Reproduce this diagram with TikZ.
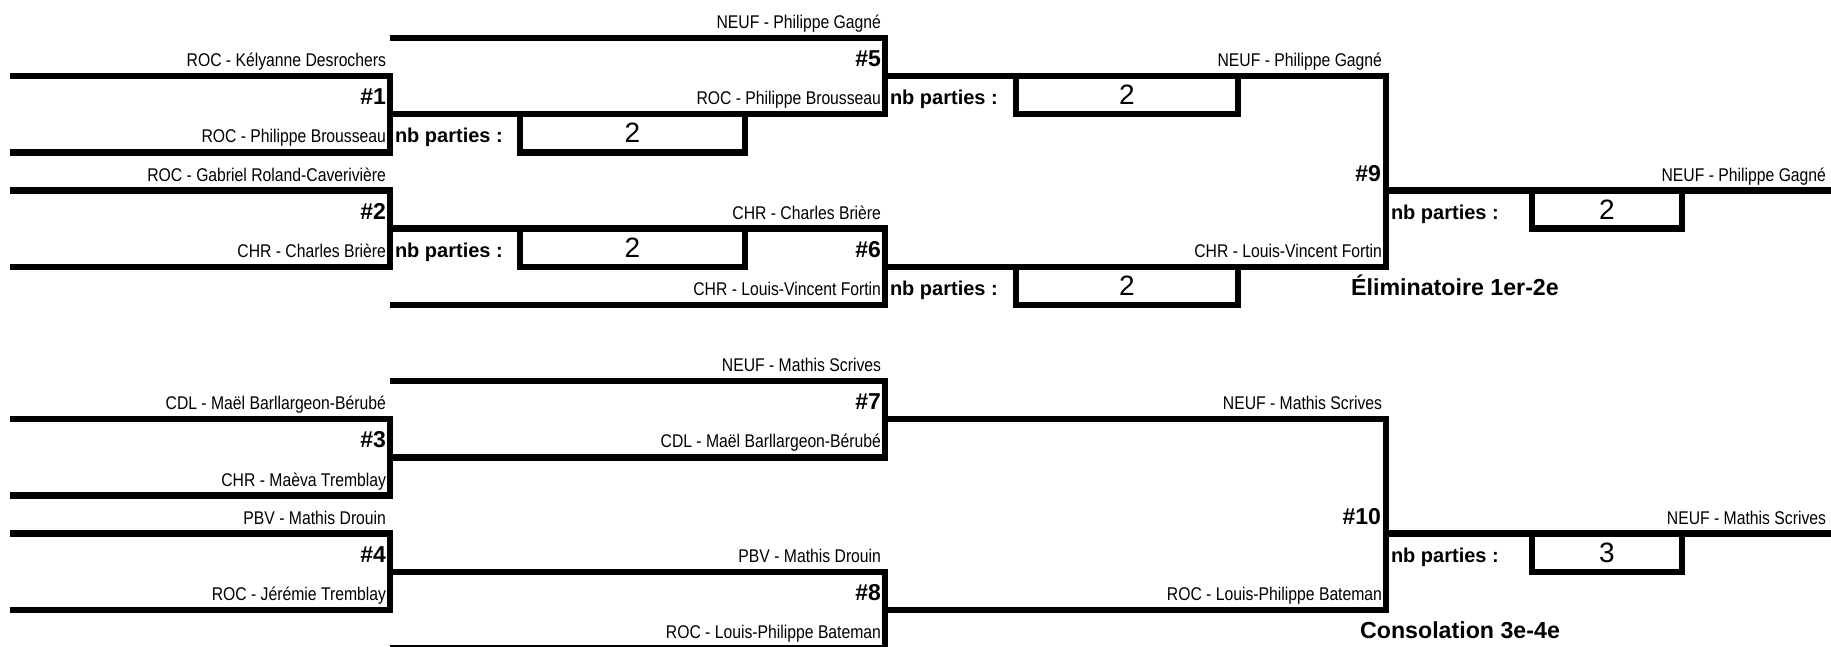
\documentclass[tikz,border=0pt]{standalone}
\usepackage{fontspec}
\setmainfont{Liberation Sans}
\newfontfamily\namefont[FakeStretch=0.855]{Liberation Sans}
\tikzset{
  brk/.style={draw=black, line width=3.2pt, line join=miter},
  txt/.style={inner sep=0pt, outer sep=0pt, yshift=4.75pt},
  nm/.style={txt, anchor=base east, font=\namefont\fontsize{9.2}{10}\selectfont},
  num/.style={txt, anchor=base east, font=\bfseries\fontsize{11.5}{13}\selectfont},
  nbp/.style={txt, anchor=base west, font=\bfseries\fontsize{10}{12}\selectfont},
  score/.style={txt, anchor=base, font=\fontsize{14}{16}\selectfont},
  ttl/.style={txt, anchor=base, font=\bfseries\fontsize{11.6}{13}\selectfont}
}
\begin{document}
\begin{tikzpicture}[x=0.5pt, y=-19.0625pt]
\clip (0,-0.99672) rectangle (1831,15.97377);
% ---------- upper bracket ----------
\draw[brk] (10,1) -- (390,1) -- (390,3) -- (10,3);
\draw[brk] (10,4) -- (390,4) -- (390,6) -- (10,6);
\draw[brk] (390,0) -- (885,0) -- (885,2) -- (390,2);
\draw[brk] (390,5) -- (885,5) -- (885,7) -- (390,7);
\draw[brk] (885,1) -- (1386,1) -- (1386,6) -- (885,6);
\draw[brk] (1386,4) -- (1831,4);
% score boxes upper
\draw[brk] (520,2) -- (520,3) -- (745,3) -- (745,2);
\draw[brk] (520,5) -- (520,6) -- (745,6) -- (745,5);
\draw[brk] (1016,1) -- (1016,2) -- (1238,2) -- (1238,1);
\draw[brk] (1016,6) -- (1016,7) -- (1238,7) -- (1238,6);
\draw[brk] (1532,4) -- (1532,5) -- (1682,5) -- (1682,4);
% ---------- lower bracket ----------
\draw[brk] (10,10) -- (390,10) -- (390,12) -- (10,12);
\draw[brk] (10,13) -- (390,13) -- (390,15) -- (10,15);
\draw[brk] (390,9) -- (885,9) -- (885,11) -- (390,11);
\draw[brk] (390,14) -- (885,14) -- (885,16) -- (390,16);
\draw[brk] (885,10) -- (1386,10) -- (1386,15) -- (885,15);
\draw[brk] (1386,13) -- (1831,13);
\draw[brk] (1532,13) -- (1532,14) -- (1682,14) -- (1682,13);
% ---------- upper texts ----------
\node[nm] (t01) at (881,0) {NEUF - Philippe Gagné};
\node[nm] (t02) at (386,1) {ROC - Kélyanne Desrochers};
\node[num] (m5) at (881,1) {\#5};
\node[nm] (t03) at (1382,1) {NEUF - Philippe Gagné};
\node[num] (m1) at (386,2) {\#1};
\node[nm] (t04) at (881,2) {ROC - Philippe Brousseau};
\node[nbp] (p5) at (890,2) {nb parties :};
\node[score] (s5) at (1127,2) {2};
\node[nm] (t05) at (386,3) {ROC - Philippe Brousseau};
\node[nbp] (p1) at (395,3) {nb parties :};
\node[score] (s1) at (632.5,3) {2};
\node[nm] (t06) at (386,4) {ROC - Gabriel Roland-Caverivière};
\node[num] (m9) at (1381,4) {\#9};
\node[nm] (t07) at (1826,4) {NEUF - Philippe Gagné};
\node[num] (m2) at (386,5) {\#2};
\node[nm] (t08) at (881,5) {CHR - Charles Brière};
\node[nbp] (p9) at (1391,5) {nb parties :};
\node[score] (s9) at (1607,5) {2};
\node[nm] (t09) at (386,6) {CHR - Charles Brière};
\node[nbp] (p2) at (395,6) {nb parties :};
\node[score] (s2) at (632.5,6) {2};
\node[num] (m6) at (881,6) {\#6};
\node[nm] (t10) at (1382,6) {CHR - Louis-Vincent Fortin};
\node[nm] (t11) at (881,7) {CHR - Louis-Vincent Fortin};
\node[nbp] (p6) at (890,7) {nb parties :};
\node[score] (s6) at (1127,7) {2};
\node[ttl] (elim) at (1455,7) {Éliminatoire 1er-2e};
% ---------- lower texts ----------
\node[nm] (t12) at (881,9) {NEUF - Mathis Scrives};
\node[nm] (t13) at (386,10) {CDL - Maël Barllargeon-Bérubé};
\node[num] (m7) at (881,10) {\#7};
\node[nm] (t14) at (1382,10) {NEUF - Mathis Scrives};
\node[num] (m3) at (386,11) {\#3};
\node[nm] (t15) at (881,11) {CDL - Maël Barllargeon-Bérubé};
\node[nm] (t16) at (386,12) {CHR - Maèva Tremblay};
\node[nm] (t17) at (386,13) {PBV - Mathis Drouin};
\node[num] (m10) at (1381,13) {\#10};
\node[nm] (t18) at (1826,13) {NEUF - Mathis Scrives};
\node[num] (m4) at (386,14) {\#4};
\node[nm] (t19) at (881,14) {PBV - Mathis Drouin};
\node[nbp] (p10) at (1391,14) {nb parties :};
\node[score] (s10) at (1607,14) {3};
\node[nm] (t20) at (386,15) {ROC - Jérémie Tremblay};
\node[num] (m8) at (881,15) {\#8};
\node[nm] (t21) at (1382,15) {ROC - Louis-Philippe Bateman};
\node[nm] (t22) at (881,16) {ROC - Louis-Philippe Bateman};
\node[ttl] (cons) at (1460,16) {Consolation 3e-4e};
\end{tikzpicture}
\end{document}
